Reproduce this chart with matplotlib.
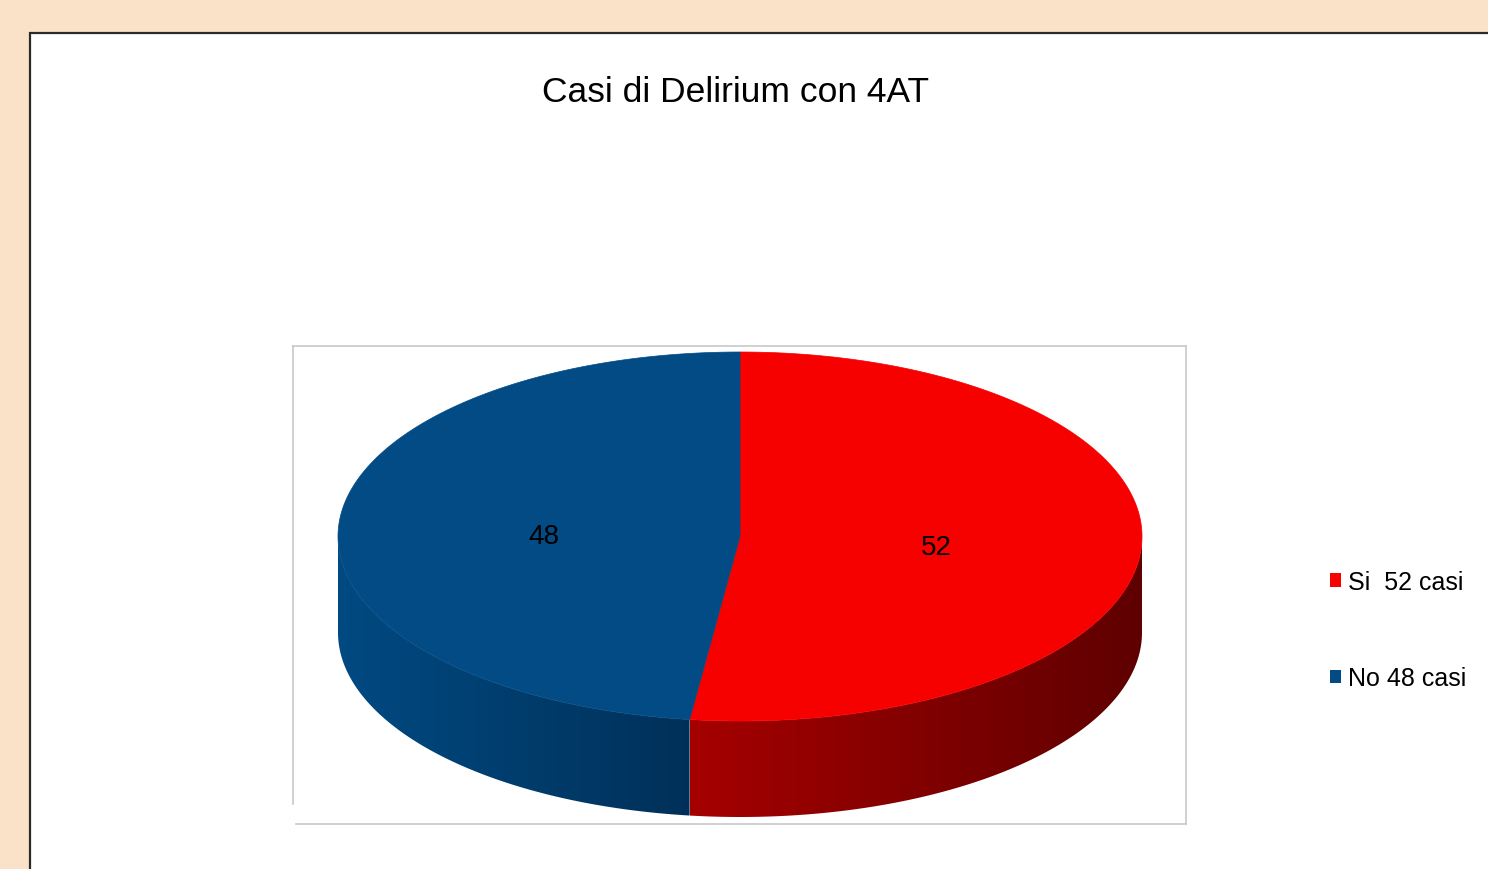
import matplotlib.pyplot as plt
import numpy as np
from matplotlib.patches import Rectangle, Polygon, Patch
from matplotlib.lines import Line2D

plt.rcParams['font.family'] = ['Liberation Sans', 'DejaVu Sans']

# data
categories = ['Si', 'No']
values = [52, 48]
legend_labels = ['Si  52 casi', 'No 48 casi']
top_colors = ['#F70000', '#024B85']
# side shading: colour at the slice divider -> colour at the outer edge
side_inner = [(0.65, 0.0, 0.0), (0.0, 0.19, 0.35)]
side_outer = [(0.37, 0.0, 0.0), (0.0, 0.29, 0.51)]
title = 'Casi di Delirium con 4AT'

fig = plt.figure(figsize=(14.88, 8.70), dpi=100)
fig.patch.set_facecolor('#FAE2C8')
ax = fig.add_axes([0, 0, 1, 1])
ax.set_xlim(0, 1488)
ax.set_ylim(870, 0)
ax.axis('off')

# white panel with dark border
ax.add_patch(Rectangle((30, 34), 1500, 900, facecolor='white', edgecolor='#2a2a2a', lw=1.6))

# plot area frame (small gap at bottom-left corner like the original)
c = '#c8c8c8'
ax.add_line(Line2D([293, 1186], [347, 347], color=c, lw=1.2))
ax.add_line(Line2D([1186, 1186], [347, 825], color=c, lw=1.2))
ax.add_line(Line2D([296, 1186], [825, 825], color=c, lw=1.2))
ax.add_line(Line2D([293, 293], [347, 805], color=c, lw=1.2))

ax.text(736, 93, title, ha='center', va='center', fontsize=25.5, color='black')

# 3d pie geometry
cx, cy, rx, ry, depth = 740, 537.5, 402, 184.5, 96
fracs = np.array(values) / np.sum(values)
starts = np.concatenate([[0], np.cumsum(fracs)[:-1]]) * 2 * np.pi
ends = np.cumsum(fracs) * 2 * np.pi


def pt(t):
    return cx + rx * np.sin(t), cy - ry * np.cos(t)


x_div = pt(ends[0])[0]

# sides (front half only), gradient image clipped to the side shape
for i in range(len(values)):
    a0 = max(starts[i], np.pi / 2)
    a1 = min(ends[i], 3 * np.pi / 2)
    if a1 <= a0:
        continue
    ts = np.linspace(a0, a1, 300)
    xs, ys = pt(ts)
    verts = list(zip(xs, ys)) + list(zip(xs[::-1], ys[::-1] + depth))
    side = Polygon(verts, closed=True, facecolor='none', edgecolor='none')
    ax.add_patch(side)
    x_lo, x_hi = xs.min(), xs.max()
    f = np.linspace(0, 1, 256)
    if i == 0:   # divider on the left, outer edge on the right
        grad = np.outer(1 - f, side_inner[i]) + np.outer(f, side_outer[i])
    else:        # outer edge on the left, divider on the right
        grad = np.outer(1 - f, side_outer[i]) + np.outer(f, side_inner[i])
    img = np.tile(grad[None, :, :], (2, 1, 1))
    im = ax.imshow(img, extent=(x_lo, x_hi, ys.max() + depth + 2, ys.min() - 2),
                   aspect='auto', interpolation='bilinear', zorder=1)
    im.set_clip_path(side)

# tops
for i in range(len(values)):
    ts = np.linspace(starts[i], ends[i], 400)
    xs, ys = pt(ts)
    verts = [(cx, cy)] + list(zip(xs, ys))
    ax.add_patch(Polygon(verts, closed=True, facecolor=top_colors[i],
                         edgecolor=top_colors[i], lw=0.5, zorder=2))

# value labels
for i in range(len(values)):
    mid = 0.5 * (starts[i] + ends[i])
    lx = cx + 0.49 * rx * np.sin(mid)
    ly = cy - 0.49 * ry * np.cos(mid)
    ax.text(lx, ly + 5, str(values[i]), ha='center', va='center', fontsize=20,
            color='black', zorder=3)

ax.set_xlim(0, 1488)
ax.set_ylim(870, 0)

handles = [Patch(facecolor=top_colors[i], edgecolor='none') for i in range(len(values))]
fig.legend(handles, legend_labels, loc='center left', bbox_to_anchor=(1317 / 1488, 1 - 631 / 870),
           frameon=False, fontsize=18, handlelength=0.45, handleheight=0.45,
           handletextpad=0.3, labelspacing=2.9, borderpad=0)

fig.savefig('out.png', dpi=100, facecolor=fig.get_facecolor())
